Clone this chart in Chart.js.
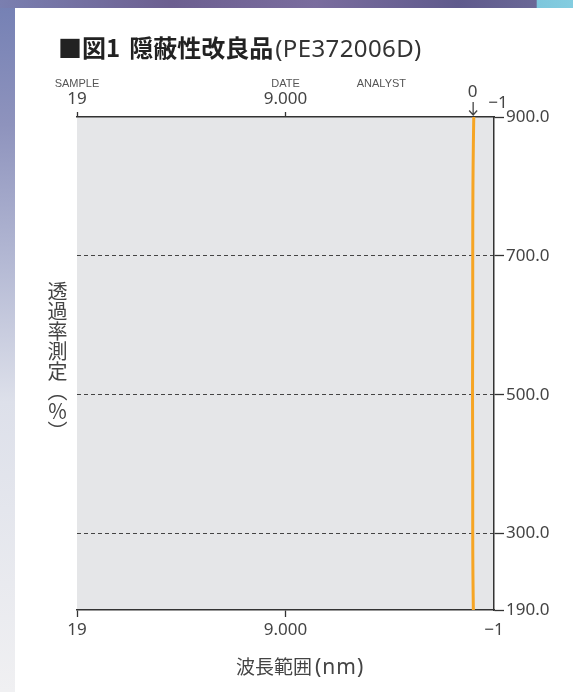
<!DOCTYPE html>
<html lang="ja">
<head>
<meta charset="utf-8">
<script src="https://cdn.jsdelivr.net/npm/chart.js@4/dist/chart.umd.min.js"></script>
<style>
  html, body { margin: 0; padding: 0; }
  body {
    width: 573px; height: 692px; position: relative; overflow: hidden;
    background: linear-gradient(180deg, #7480b4 0%, #8e93bd 18%, #b4b9d4 38%, #dde0ea 58%, #f0f0f2 100%);
  }
  .topband {
    position: absolute; left: 0; top: 0; width: 573px; height: 8px;
    background: linear-gradient(90deg, #7a7fb0 0%, #6c5f90 30%, #7a6d9e 55%, #5f5a8c 80%, #6a6896 93.6%, #7dc6dc 93.7%, #84cde0 100%);
  }
  .card { position: absolute; left: 15px; top: 8px; right: 0; bottom: 0; background: #fff; }
  .wrap { position: absolute; left: 0; top: 0; width: 573px; height: 692px; }
  .title {
    position: absolute; left: 58px; top: 33px; line-height: 28px; white-space: nowrap;
    color: #222; font-family: "Noto Sans CJK JP", sans-serif;
  }
  .title b { font-size: 24px; font-weight: 700; }
  .title b + b { margin-left: 9px; }
  .title span { font-size: 24px; font-weight: 400; font-family: "Noto Sans", "Noto Sans CJK JP", sans-serif; color: #333; margin-left: 2px; letter-spacing: 0.4px; }
  .ytitle {
    position: absolute; left: 47px; top: 281px; writing-mode: vertical-rl;
    font-family: "Noto Sans CJK JP", sans-serif; font-size: 20px; line-height: 21px; color: #444;
  }
  .xtitle {
    position: absolute; left: 236px; top: 654px; white-space: nowrap;
    font-family: "Noto Sans CJK JP", sans-serif; font-size: 19px; line-height: 24px; color: #444;
  }
  .xtitle span { font-family: "Noto Sans", sans-serif; font-size: 21px; margin-left: 3px; letter-spacing: 1px; }
</style>
</head>
<body>
<div class="topband"></div>
<div class="card"></div>
<div class="wrap"><canvas id="chart"></canvas></div>
<div class="title"><b>■図1</b><b>隠蔽性改良品</b><span>(PE372006D)</span></div>
<div class="ytitle">透過率測定（％）</div>
<div class="xtitle">波長範囲<span>(nm)</span></div>
<script>
// 測定データ（波長 ~0 に沿った縦線）
const lineX = [-0.03, -0.01, 0.01, 0.02, 0.02, 0.03, 0.02, 0.02, 0.01, -0.01];
const lineY = [900, 860, 800, 700, 600, 500, 400, 300, 240, 190];

const xMin = -1, xMax = 19;
const yMin = 190, yMax = 900;

const bottomTicks = [19, 9, -1];
const bottomLabels = ["19", "9.000", "−1"];
const topTicks = [19, 9];
const topLabels = ["19", "9.000"];
const topCaptions = ["SAMPLE", "DATE"];
const analystAt = 4.4;
const yTicks = [900, 700, 500, 300, 190];

const numFont = { family: "Noto Sans", size: 17 };
const textColor = "#444";
const axisColor = "#333";

const plotBg = {
  id: "plotBg",
  beforeDraw(chart) {
    const a = chart.chartArea, ctx = chart.ctx;
    ctx.save();
    ctx.fillStyle = "#e5e6e8";
    ctx.fillRect(a.left, a.top, a.right - a.left, a.bottom - a.top);
    ctx.restore();
  }
};

const topText = {
  id: "topText",
  afterDraw(chart) {
    const s = chart.scales.x2, ctx = chart.ctx;
    ctx.save();
    ctx.fillStyle = "#555";
    ctx.textAlign = "center";
    ctx.textBaseline = "middle";
    ctx.font = "11px 'Liberation Sans'";
    topTicks.forEach((v, i) => ctx.fillText(topCaptions[i], s.getPixelForValue(v), 84));
    ctx.fillText("ANALYST", s.getPixelForValue(analystAt), 84);
    ctx.fillStyle = textColor;
    ctx.font = "17px 'Noto Sans'";
    const x0 = s.getPixelForValue(0);
    ctx.fillText("0", x0 - 0.5, 92);
    ctx.fillText("−1", s.getPixelForValue(-1) + 4, 103);
    // 矢印
    ctx.strokeStyle = textColor;
    ctx.lineWidth = 1.3;
    ctx.beginPath();
    ctx.moveTo(x0, 102); ctx.lineTo(x0, 115);
    ctx.moveTo(x0 - 4, 110.5); ctx.lineTo(x0, 115); ctx.lineTo(x0 + 4, 110.5);
    ctx.stroke();
    ctx.restore();
  }
};

new Chart(document.getElementById("chart"), {
  type: "scatter",
  data: {
    datasets: [{
      data: lineX.map((x, i) => ({ x, y: lineY[i] })),
      showLine: true,
      borderColor: "#f6a524",
      borderWidth: 3,
      pointRadius: 0,
      tension: 0.4,
    }],
  },
  options: {
    responsive: true,
    maintainAspectRatio: false,
    animation: false,
    devicePixelRatio: 1,
    layout: { padding: { left: 77, right: 0, top: 0, bottom: 0 } },
    plugins: { legend: { display: false }, tooltip: { enabled: false } },
    scales: {
      x: {
        type: "linear", position: "bottom", reverse: true, min: xMin, max: xMax,
        afterFit: s => { s.height = 82; },
        afterBuildTicks: s => { s.ticks = bottomTicks.map(v => ({ value: v })); },
        ticks: {
          autoSkip: false, maxRotation: 0, padding: 3, color: textColor, font: numFont,
          callback: v => bottomLabels[bottomTicks.indexOf(v)],
        },
        grid: {
          drawOnChartArea: false, tickLength: 7, tickWidth: 1.3,
          tickColor: c => (c.tick && c.tick.value === -1) ? "rgba(0,0,0,0)" : axisColor,
        },
        border: { display: true, color: axisColor, width: 1.5 },
      },
      x2: {
        type: "linear", position: "top", reverse: true, min: xMin, max: xMax,
        afterFit: s => { s.height = 117; },
        afterBuildTicks: s => { s.ticks = topTicks.map(v => ({ value: v })); },
        ticks: {
          autoSkip: false, maxRotation: 0, padding: 3, color: textColor, font: numFont,
          callback: v => topLabels[topTicks.indexOf(v)],
        },
        grid: { drawOnChartArea: false, tickLength: 5, tickWidth: 1.3, tickColor: axisColor },
        border: { display: true, color: axisColor, width: 1.5 },
      },
      y: {
        type: "linear", position: "right", min: yMin, max: yMax,
        afterFit: s => { s.width = 79; },
        afterBuildTicks: s => { s.ticks = yTicks.map(v => ({ value: v })); },
        ticks: { autoSkip: false, padding: 2, color: textColor, font: numFont, callback: v => v.toFixed(1) },
        grid: {
          drawOnChartArea: true, tickLength: 10, tickWidth: 1.3, tickColor: axisColor, lineWidth: 1,
          color: c => (c.tick && (c.tick.value === yMax || c.tick.value === yMin)) ? "rgba(0,0,0,0)" : "#444",
        },
        border: { display: true, color: axisColor, width: 1.5, dash: [4, 3] },
      },
    },
  },
  plugins: [plotBg, topText],
});
</script>
</body>
</html>
